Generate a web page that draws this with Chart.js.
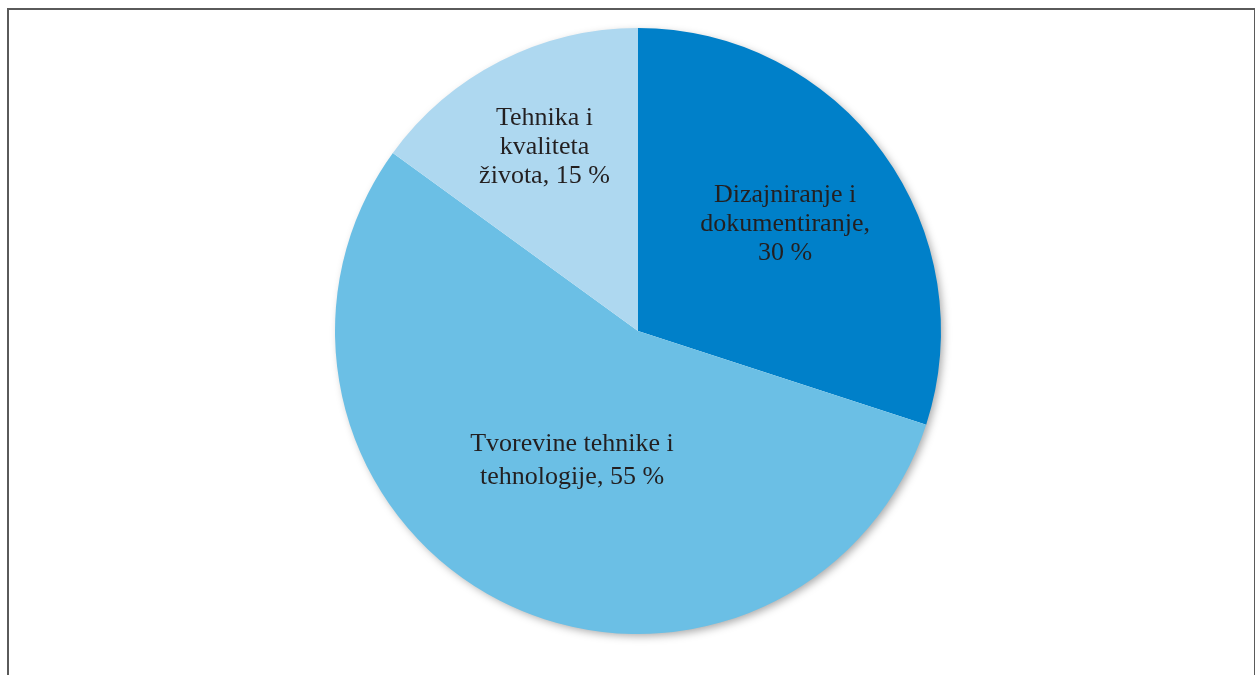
<!DOCTYPE html>
<html>
<head>
<meta charset="utf-8">
<script src="https://cdn.jsdelivr.net/npm/chart.js@4/dist/chart.umd.min.js"></script>
<style>
  html, body { margin: 0; padding: 0; background: #fff; }
  body { width: 1255px; height: 675px; position: relative; overflow: hidden; }
  #frame { position: absolute; left: 7px; top: 8px; width: 1245px; height: 700px;
           border: 2px solid #5a5a5a; border-bottom: none; }
  #wrap { position: absolute; left: 0; top: 0; width: 1255px; height: 675px; }
</style>
</head>
<body>
<div id="frame"></div>
<div id="wrap"><canvas id="c" width="1255" height="675"></canvas></div>
<script>
// Data
const categories = [
  ["Dizajniranje i", "dokumentiranje,", "30 %"],
  ["Tvorevine tehnike i", "tehnologije, 55 %"],
  ["Tehnika i", "kvaliteta", "života, 15 %"]
];
const values = [30, 55, 15];
const colors = ["#0080C9", "#6BBFE5", "#AED8F0"];

// Label placement (fraction of radius along slice mid-angle, line height)
const labelRadiusFrac = [0.60, 0.48, 0.68];
const labelLineHeight = [29, 33, 29];

const shadowPlugin = {
  id: 'pieShadow',
  beforeDatasetsDraw(chart) {
    const arc = chart.getDatasetMeta(0).data[0];
    if (!arc) return;
    const ctx = chart.ctx;
    ctx.save();
    ctx.shadowColor = 'rgba(0,0,0,0.35)';
    ctx.shadowBlur = 8;
    ctx.shadowOffsetX = 3;
    ctx.shadowOffsetY = 3;
    ctx.fillStyle = '#ffffff';
    ctx.beginPath();
    ctx.arc(arc.x, arc.y, arc.outerRadius - 1, 0, Math.PI * 2);
    ctx.fill();
    ctx.restore();
  }
};

const labelPlugin = {
  id: 'sliceLabels',
  afterDatasetsDraw(chart) {
    const ctx = chart.ctx;
    const meta = chart.getDatasetMeta(0);
    ctx.save();
    ctx.font = '26px "Liberation Serif", "Times New Roman", serif';
    ctx.fillStyle = '#231F20';
    ctx.textAlign = 'center';
    ctx.textBaseline = 'middle';
    meta.data.forEach((arc, i) => {
      const mid = (arc.startAngle + arc.endAngle) / 2;
      const r = arc.outerRadius * labelRadiusFrac[i];
      const cx = arc.x + Math.cos(mid) * r;
      const cy = arc.y + Math.sin(mid) * r;
      const lines = categories[i];
      const lh = labelLineHeight[i];
      lines.forEach((t, j) => {
        ctx.fillText(t, cx, cy + (j - (lines.length - 1) / 2) * lh);
      });
    });
    ctx.restore();
  }
};

new Chart(document.getElementById('c'), {
  type: 'pie',
  data: {
    labels: categories.map(l => l.join(' ')),
    datasets: [{
      data: values,
      backgroundColor: colors,
      borderWidth: 0
    }]
  },
  options: {
    responsive: false,
    animation: false,
    layout: { padding: { top: 28, bottom: 41, left: 21, right: 0 } },
    plugins: { legend: { display: false }, tooltip: { enabled: false } }
  },
  plugins: [shadowPlugin, labelPlugin]
});
</script>
</body>
</html>
